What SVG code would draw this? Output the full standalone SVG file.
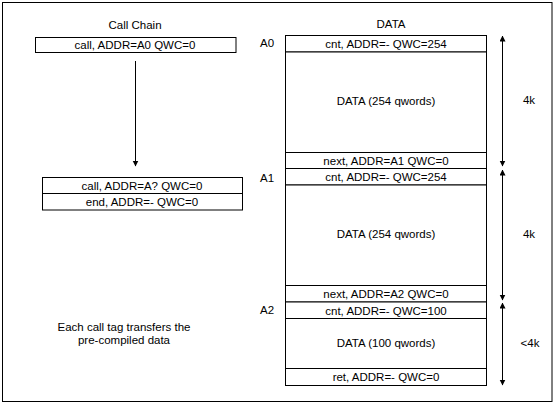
<svg xmlns="http://www.w3.org/2000/svg" width="554" height="403" viewBox="0 0 554 403">
<style>
  text { font-family: "Liberation Sans", Arial, sans-serif; font-size: 11.5px; fill: #000; }
  .c { text-anchor: middle; }
  .box { fill: #fff; stroke: #000; stroke-width: 1; }
  .ln { stroke: #000; stroke-width: 1; fill: none; }
</style>
<defs>
  <marker id="ah" markerWidth="6" markerHeight="8" refX="5.5" refY="3" orient="auto" markerUnits="userSpaceOnUse">
    <path d="M0,0 L6,3 L0,6 Z" fill="#000"/>
  </marker>
</defs>
<rect x="2.5" y="2.5" width="549.5" height="399" fill="#fff" stroke="#000"/>

<g id="title-chain"><text class="c" x="135" y="29">Call Chain</text></g>
<g id="title-data"><text class="c" x="391" y="28">DATA</text></g>

<g id="call-a0">
  <rect class="box" x="35.5" y="37.5" width="200.5" height="15"/>
  <text class="c" x="135" y="49">call, ADDR=A0 QWC=0</text>
</g>
<g id="call-list">
  <rect class="box" x="42.5" y="177.5" width="200" height="16"/>
  <text class="c" x="142" y="189.5">call, ADDR=A? QWC=0</text>
  <rect class="box" x="42.5" y="193.5" width="200" height="16.5"/>
  <text class="c" x="142" y="205.5">end, ADDR=- QWC=0</text>
</g>

<g id="note">
  <text class="c" x="124" y="331">Each call tag transfers the</text>
  <text class="c" x="124" y="344">pre-compiled data</text>
</g>

<g id="addr-labels">
  <text x="260" y="46.5">A0</text>
  <text x="260" y="181.5">A1</text>
  <text x="260" y="313.5">A2</text>
</g>

<g id="data-column">
  <rect class="box" x="285.5" y="35.5" width="201" height="16.5"/>
  <text class="c" x="386" y="48">cnt, ADDR=- QWC=254</text>
  <rect class="box" x="285.5" y="52" width="201" height="100.5"/>
  <text class="c" x="386" y="105">DATA (254 qwords)</text>
  <rect class="box" x="285.5" y="152.5" width="201" height="16"/>
  <text class="c" x="386" y="164.5">next, ADDR=A1 QWC=0</text>
  <rect class="box" x="285.5" y="168.5" width="201" height="16.5"/>
  <text class="c" x="386" y="181">cnt, ADDR=- QWC=254</text>
  <rect class="box" x="285.5" y="185" width="201" height="100.5"/>
  <text class="c" x="386" y="238">DATA (254 qwords)</text>
  <rect class="box" x="285.5" y="285.5" width="201" height="16.5"/>
  <text class="c" x="386" y="298">next, ADDR=A2 QWC=0</text>
  <rect class="box" x="285.5" y="302" width="201" height="16.5"/>
  <text class="c" x="386" y="314.5">cnt, ADDR=- QWC=100</text>
  <rect class="box" x="285.5" y="318.5" width="201" height="50"/>
  <text class="c" x="386" y="347">DATA (100 qwords)</text>
  <rect class="box" x="285.5" y="368.5" width="201" height="17"/>
  <text class="c" x="386" y="381">ret, ADDR=- QWC=0</text>
</g>

<g id="size-labels">
  <text class="c" x="529" y="104">4k</text>
  <text class="c" x="529" y="238">4k</text>
  <text class="c" x="530" y="347">&lt;4k</text>
</g>

<g id="connectors">
  <line class="ln" x1="135.5" y1="61" x2="135.5" y2="166" marker-end="url(#ah)"/>
  <line class="ln" x1="502.5" y1="100" x2="502.5" y2="36" marker-end="url(#ah)"/>
  <line class="ln" x1="502.5" y1="100" x2="502.5" y2="166" marker-end="url(#ah)"/>
  <line class="ln" x1="502.5" y1="235" x2="502.5" y2="170" marker-end="url(#ah)"/>
  <line class="ln" x1="502.5" y1="235" x2="502.5" y2="300" marker-end="url(#ah)"/>
  <line class="ln" x1="502.5" y1="343" x2="502.5" y2="303" marker-end="url(#ah)"/>
  <line class="ln" x1="502.5" y1="343" x2="502.5" y2="385" marker-end="url(#ah)"/>
</g>
</svg>
